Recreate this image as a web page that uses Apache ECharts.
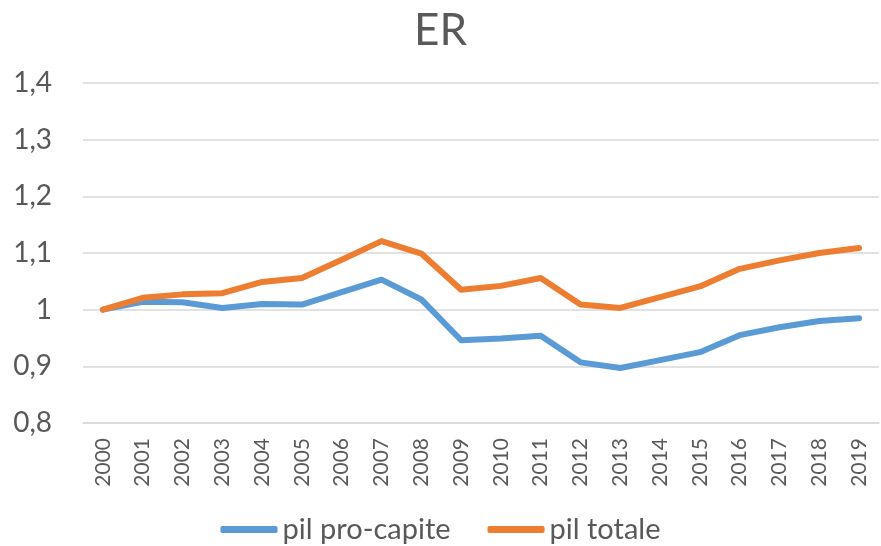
<!DOCTYPE html>
<html>
<head>
<meta charset="utf-8">
<script src="https://cdn.jsdelivr.net/npm/echarts@6/dist/echarts.min.js"></script>
<style>html,body{margin:0;padding:0;background:#fff;}#c{width:881px;height:546px;}</style>
</head>
<body>
<div id="c"></div>
<script>
var years = ['2000','2001','2002','2003','2004','2005','2006','2007','2008','2009','2010','2011','2012','2013','2014','2015','2016','2017','2018','2019'];
var pilProCapite = [1.000,1.014,1.013,1.003,1.010,1.009,1.031,1.053,1.018,0.946,0.949,0.954,0.907,0.897,0.911,0.925,0.955,0.969,0.980,0.985];
var pilTotale = [1.000,1.021,1.027,1.029,1.049,1.056,1.088,1.121,1.099,1.035,1.042,1.056,1.009,1.003,1.022,1.041,1.072,1.087,1.100,1.109];
var yTicks = {min:0.8, max:1.4, interval:0.1};
var font = 'Lato, "Open Sans", sans-serif';
var txt = '#595959';
var chart = echarts.init(document.getElementById('c'), null, {renderer:'canvas'});
chart.setOption({
  animation:false,
  title:{text:'ER', left:'center', top:4, textStyle:{fontFamily:font, fontSize:44, fontWeight:'normal', color:txt}},
  grid:{left:83, right:2, top:83, bottom:123, containLabel:false},
  legend:{top:510, left:'center', itemWidth:57, itemHeight:7, itemGap:37,
    textStyle:{fontFamily:font, fontSize:29, color:txt, padding:[0,0,0,0]},
    data:[{name:'pil pro-capite', icon:'roundRect'},{name:'pil totale', icon:'roundRect'}]},
  xAxis:{type:'category', data:years, boundaryGap:true,
    axisLine:{lineStyle:{color:'#d9d9d9', width:1.5}}, axisTick:{show:false},
    axisLabel:{rotate:90, fontFamily:font, fontSize:21, color:txt, margin:15, interval:0}},
  yAxis:{type:'value', min:yTicks.min, max:yTicks.max, interval:yTicks.interval,
    axisLine:{show:false}, axisTick:{show:false},
    splitLine:{lineStyle:{color:'#d9d9d9', width:1.5}},
    axisLabel:{fontFamily:font, fontSize:28, color:txt, margin:31,
      formatter:function(v){ return (Math.round(v*10)/10).toString().replace('.',','); }}},
  series:[
    {name:'pil pro-capite', type:'line', data:pilProCapite, symbol:'none', color:'#5B9BD5',
      lineStyle:{width:6, color:'#5B9BD5', cap:'round', join:'round'}},
    {name:'pil totale', type:'line', data:pilTotale, symbol:'none', color:'#ED7D31',
      lineStyle:{width:6, color:'#ED7D31', cap:'round', join:'round'}}
  ]
});
</script>
</body>
</html>
